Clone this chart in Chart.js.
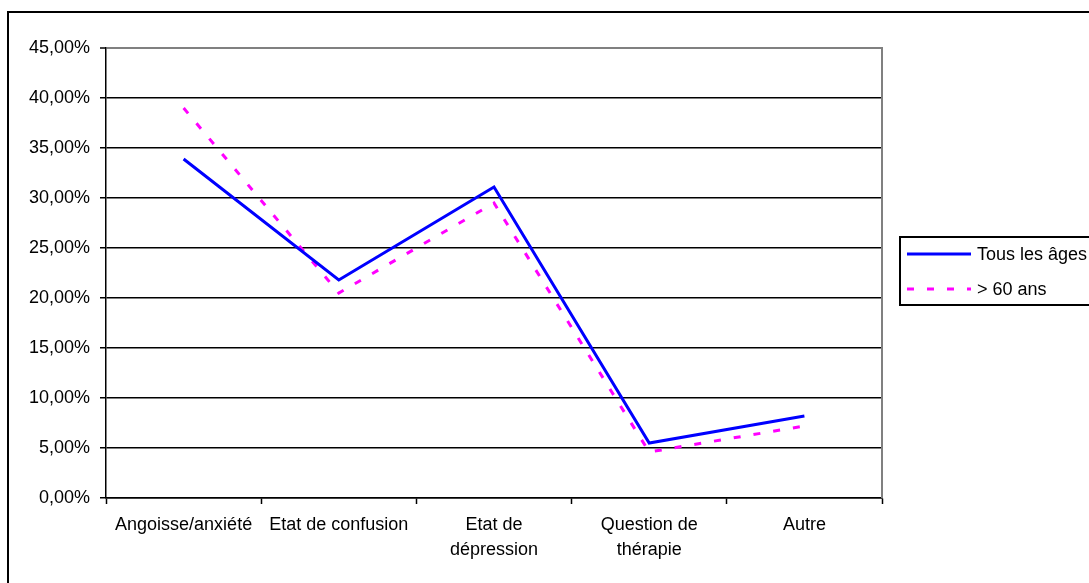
<!DOCTYPE html>
<html lang="fr">
<head>
<meta charset="utf-8">
<title>Motifs de consultation</title>
<script src="https://cdn.jsdelivr.net/npm/chart.js@4.4.1/dist/chart.umd.min.js"></script>
<style>
  html, body { margin: 0; padding: 0; background: #ffffff; }
  #wrap { width: 1089px; height: 583px; position: relative; }
</style>
</head>
<body>
<div id="wrap"><canvas id="c" width="1089" height="583"></canvas></div>
<script>
// Catégories (axe des X) et séries, en pourcentage
const categories = [
  'Angoisse/anxiété',
  'Etat de confusion',
  ['Etat de', 'dépression'],
  ['Question de', 'thérapie'],
  'Autre'
];
const seriesNames = ['Tous les âges', '> 60 ans'];
const tousLesAges = [33.9, 21.8, 31.1, 5.5, 8.2];
const plus60ans   = [39.0, 20.5, 29.5, 4.6, 7.2];
const yTicks = [0, 5, 10, 15, 20, 25, 30, 35, 40, 45];

const FONT = "'Liberation Sans', Arial, sans-serif";
const fmtPct = v => v.toFixed(2).replace('.', ',') + '%';

// Fond blanc, cadre extérieur, bordure droite du tracé et légende encadrée
const framePlugin = {
  id: 'frame',
  beforeDraw(chart) {
    const ctx = chart.ctx;
    ctx.save();
    ctx.fillStyle = '#ffffff';
    ctx.fillRect(0, 0, chart.width, chart.height);
    ctx.restore();
  },
  afterDraw(chart) {
    const ctx = chart.ctx;
    const a = chart.chartArea;
    ctx.save();
    // cadre du graphique
    ctx.strokeStyle = '#000000';
    ctx.lineWidth = 2;
    ctx.strokeRect(8, 12, 1300, 800);
    // bordure droite grise de la zone de tracé
    ctx.strokeStyle = '#808080';
    ctx.lineWidth = 2;
    ctx.beginPath();
    ctx.moveTo(a.right, a.top - 1);
    ctx.lineTo(a.right, a.bottom);
    ctx.stroke();

    // légende
    const lx = 900, ly = 237, rowH = 35, firstY = 254;
    ctx.strokeStyle = '#000000';
    ctx.lineWidth = 2;
    ctx.strokeRect(lx, ly, 400, 68);
    ctx.font = '18px ' + FONT;
    ctx.textBaseline = 'middle';
    ctx.textAlign = 'left';
    chart.data.datasets.forEach((ds, i) => {
      const y = firstY + i * rowH;
      ctx.save();
      ctx.strokeStyle = ds.borderColor;
      ctx.lineWidth = ds.borderWidth;
      ctx.lineCap = 'butt';
      ctx.setLineDash(ds.borderDash || []);
      ctx.beginPath();
      ctx.moveTo(907, y);
      ctx.lineTo(971, y);
      ctx.stroke();
      ctx.restore();
      ctx.fillStyle = '#000000';
      ctx.fillText(ds.label, 977, y + 1);
    });
    ctx.restore();
  }
};

new Chart(document.getElementById('c'), {
  type: 'line',
  data: {
    labels: categories,
    datasets: [
      {
        label: seriesNames[0],
        data: tousLesAges,
        borderColor: '#0000ff',
        borderWidth: 3,
        pointRadius: 0,
        tension: 0,
        fill: false
      },
      {
        label: seriesNames[1],
        data: plus60ans,
        borderColor: '#ff00ff',
        borderWidth: 3,
        borderDash: [7, 13],
        borderCapStyle: 'butt',
        pointRadius: 0,
        tension: 0,
        fill: false
      }
    ]
  },
  options: {
    responsive: false,
    animation: false,
    devicePixelRatio: 1,
    layout: { padding: { top: 48, right: 207, left: 0, bottom: 0 } },
    plugins: {
      legend: { display: false },
      tooltip: { enabled: false }
    },
    scales: {
      x: {
        type: 'category',
        offset: true,
        afterFit(scale) { scale.height = 85; },
        grid: {
          offset: true,
          drawOnChartArea: false,
          drawTicks: true,
          tickLength: 6,
          tickColor: '#000000',
          tickWidth: 1.5
        },
        border: { display: true, color: '#000000', width: 1.5 },
        ticks: {
          color: '#000000',
          font: { family: FONT, size: 18, lineHeight: 1.4 },
          padding: 8,
          maxRotation: 0,
          minRotation: 0,
          autoSkip: false
        }
      },
      y: {
        min: 0,
        max: 45,
        afterFit(scale) { scale.width = 106; },
        afterBuildTicks(scale) { scale.ticks = yTicks.map(v => ({ value: v })); },
        grid: {
          color: ctx => (ctx.tick && ctx.tick.value === 45) ? '#808080' : '#000000',
          lineWidth: ctx => (ctx.tick && ctx.tick.value === 45) ? 2 : 1.5,
          tickColor: '#000000',
          tickWidth: 1.5,
          tickLength: 6,
          drawTicks: true
        },
        border: { display: true, color: '#000000', width: 1.5 },
        ticks: {
          color: '#000000',
          font: { family: FONT, size: 18 },
          padding: 10,
          callback: v => fmtPct(v)
        }
      }
    }
  },
  plugins: [framePlugin]
});
</script>
</body>
</html>
